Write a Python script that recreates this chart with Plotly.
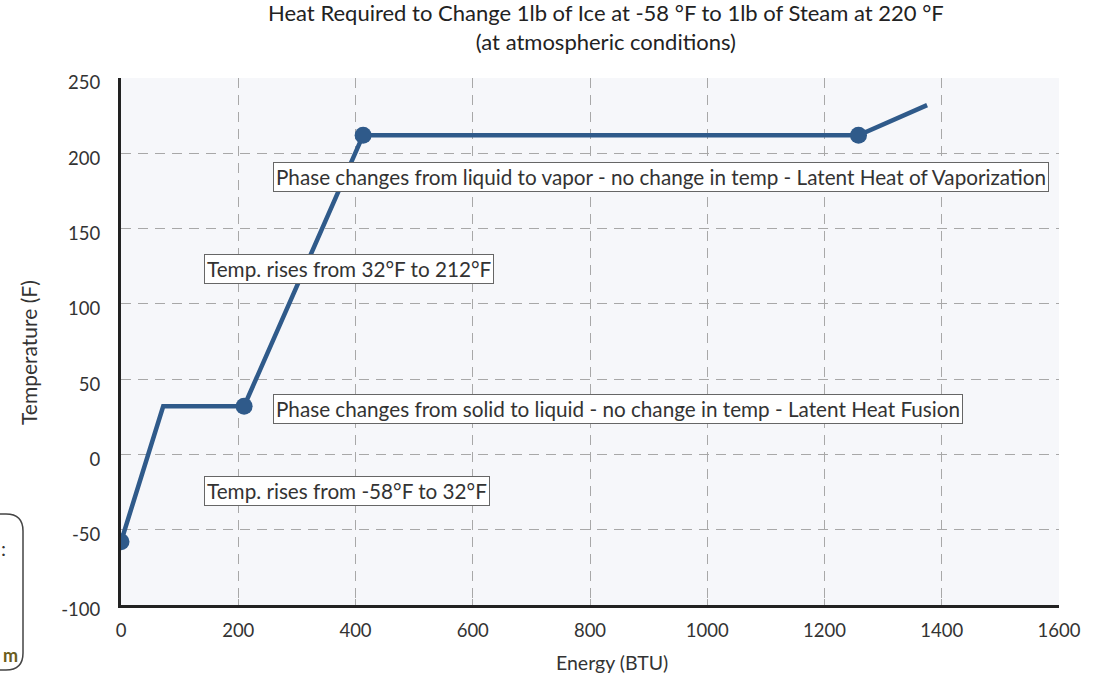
import plotly.graph_objects as go

# Data
energy = [0, 72, 210, 413, 1258, 1375]
temperature = [-58, 32, 32, 212, 212, 232]
marker_shown = [True, False, True, True, True, False]

notes = [
    "Phase changes from liquid to vapor - no change in temp - Latent Heat of Vaporization",
    "Temp. rises from 32°F to 212°F",
    "Phase changes from solid to liquid - no change in temp - Latent Heat Fusion",
    "Temp. rises from -58°F to 32°F",
]
note_x = [259, 142, 259, 142]
note_y = [184, 123, 30, -24]

x_ticks = [0, 200, 400, 600, 800, 1000, 1200, 1400, 1600]
y_ticks = [-100, -50, 0, 50, 100, 150, 200, 250]

LINE = "#2f5a8a"
FONT = "Lato"
TXT = "#333333"

# plot area in pixels (for converting decorative page elements)
L, R, T, B = 121, 1059, 78, 605
W, H = 1107, 675


def px(xp):
    return (xp - L) / (R - L)


def py(yp):
    return (B - yp) / (B - T)


fig = go.Figure()
fig.add_trace(go.Scatter(
    x=energy, y=temperature, mode="lines+markers",
    line=dict(color=LINE, width=4.5),
    marker=dict(color=LINE, size=[17 if m else 0 for m in marker_shown],
                opacity=1, line=dict(width=0)),
    hoverinfo="skip", showlegend=False,
))

for t, x, y in zip(notes, note_x, note_y):
    fig.add_annotation(
        x=x, y=y, xref="x", yref="y", text=t, showarrow=False,
        xanchor="left", yanchor="middle",
        font=dict(family=FONT, size=20.7, color=TXT),
        bgcolor="white", bordercolor="#666666", borderwidth=1, borderpad=2,
    )

# title
fig.add_annotation(
    x=px(606), y=1, xref="paper", yref="paper", yanchor="bottom", xanchor="center",
    yshift=21, showarrow=False,
    text="Heat Required to Change 1lb of Ice at -58 °F to 1lb of Steam at 220 °F<br>(at atmospheric conditions)",
    font=dict(family=FONT, size=22, color="#222222"),
)

# axis titles
fig.add_annotation(
    x=px(612), y=py(662), xref="paper", yref="paper", xanchor="center", yanchor="middle",
    showarrow=False, text="Energy (BTU)", font=dict(family=FONT, size=19.5, color=TXT),
)
fig.add_annotation(
    x=px(28), y=py(353), xref="paper", yref="paper", xanchor="center", yanchor="middle",
    showarrow=False, text="Temperature (F)", textangle=-90,
    font=dict(family=FONT, size=21, color=TXT),
)

# clipped page element at the lower-left edge
path = (f"M {px(-20)},{py(514)} L {px(6)},{py(514)} Q {px(23)},{py(514)} {px(23)},{py(531)} "
        f"L {px(23)},{py(653)} Q {px(23)},{py(670)} {px(6)},{py(670)} L {px(-20)},{py(670)}")
fig.add_shape(type="path", path=path, xref="paper", yref="paper",
              line=dict(color="#444444", width=1.5))
fig.add_annotation(x=px(3), y=py(548), xref="paper", yref="paper", text=":",
                   showarrow=False, xanchor="center", yanchor="middle",
                   font=dict(family=FONT, size=20, color="#333333"))
fig.add_annotation(x=px(1), y=py(655), xref="paper", yref="paper", text="<b>m</b>",
                   showarrow=False, xanchor="left", yanchor="middle",
                   font=dict(family=FONT, size=18, color="#6b5d1c"))

fig.update_layout(
    width=W, height=H,
    margin=dict(l=L, r=W - R, t=T, b=H - B, autoexpand=False),
    paper_bgcolor="white",
    plot_bgcolor="#f6f7fa",
    font=dict(family=FONT, size=18.5, color=TXT),
    xaxis=dict(
        range=[0, 1600], tickvals=x_ticks, ticktext=[str(v) for v in x_ticks],
        showgrid=True, gridcolor="#a8a8a8", griddash="10px,7px", gridwidth=1,
        showline=True, linecolor="#222222", linewidth=3,
        ticks="inside", ticklen=6, tickcolor="#a8a8a8",
        zeroline=False, automargin=False, ticklabelstandoff=7,
        tickfont=dict(family=FONT, size=18.5, color=TXT),
    ),
    yaxis=dict(
        range=[-100, 250], tickvals=y_ticks, ticktext=[str(v) for v in y_ticks],
        showgrid=True, gridcolor="#a8a8a8", griddash="10px,7px", gridwidth=1,
        showline=True, linecolor="#222222", linewidth=3,
        ticks="", zeroline=False, automargin=False, ticklabelstandoff=14,
        ticklabelshift=5,
        tickfont=dict(family=FONT, size=18.5, color=TXT),
    ),
)

fig.write_html(
    "out.html",
    config={"displayModeBar": False},
    post_script="document.body.style.margin='0';document.body.style.overflow='hidden';",
)
